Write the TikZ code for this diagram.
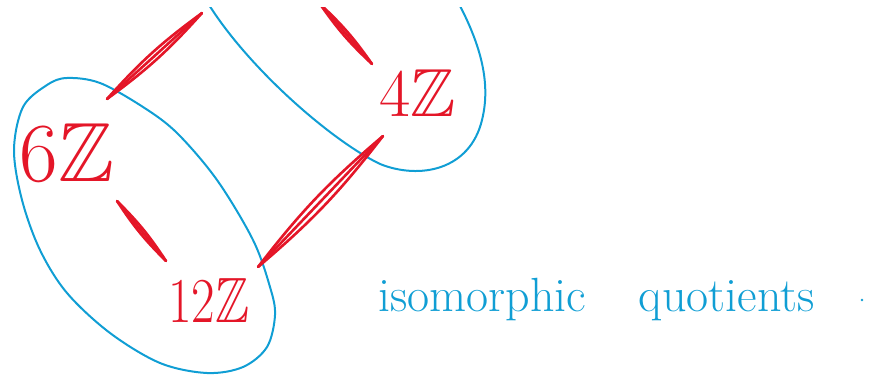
\documentclass[tikz,border=0pt]{standalone}
\usepackage{amssymb}
\definecolor{inkred}{RGB}{228,22,40}
\definecolor{inkblue}{RGB}{16,158,212}
\begin{document}
\begin{tikzpicture}[x=0.5pt,y=-0.5pt,
  lab/.style={text=inkred, inner sep=0pt, anchor=base},
  stroke/.style={draw=inkred, line width=1.3pt, line cap=round, line join=round},
  loop/.style={draw=inkblue, line width=1pt}]
\useasboundingbox (0,0) rectangle (886,378);
% labels
\node[lab, font=\fontsize{42}{48}\selectfont] (n6) at (67,182) {6$\mathbb{Z}$};
\node[lab, font=\fontsize{34}{40}\selectfont] (n4) at (418,117) {4$\mathbb{Z}$};
\node[lab, font=\fontsize{32}{38}\selectfont] (n12) at (209,322) {\scalebox{0.8}[1]{12$\mathbb{Z}$}};
% connector end points
\coordinate (a1) at (117,201);
\coordinate (a2) at (166,261);
\coordinate (b1) at (383,136);
\coordinate (b2) at (258,267);
\coordinate (c1) at (107,99);
\coordinate (c2) at (202,13);
\coordinate (d1) at (372,64);
\coordinate (d2) at (320,4);
\begin{scope}
\clip (0,8) rectangle (886,378);
% blue loops
\draw[loop] plot[smooth cycle, tension=0.55] coordinates {
  (47,85) (67,78) (100,83) (143,107) (177,133) (217,180) (253,240)
  (270,287) (275,315) (267,347) (243,367) (207,373) (160,363)
  (110,333) (67,293) (40,250) (22,200) (14,150) (23,107)};
\draw[loop] (206,0) .. controls (245,65) and (330,140) .. (380,164)
  .. controls (420,180) and (470,170) .. (482,120)
  .. controls (492,80) and (478,40) .. (458,2);
% red connectors
\foreach \p/\q in {a1/a2, b1/b2, c1/c2, d1/d2}{
  \draw[stroke] (\p) to[bend left=6] (\q) to[bend left=6] (\p);
  \draw[stroke] (\p) -- (\q);
}
\end{scope}
% caption
\node[text=inkblue, anchor=base west, inner sep=0pt, font=\fontsize{24}{28}\selectfont] (cap) at (378,312) {isomorphic \hspace{19pt}quotients};
\fill[inkblue] (862,300) circle (1.3);
\end{tikzpicture}
\end{document}
